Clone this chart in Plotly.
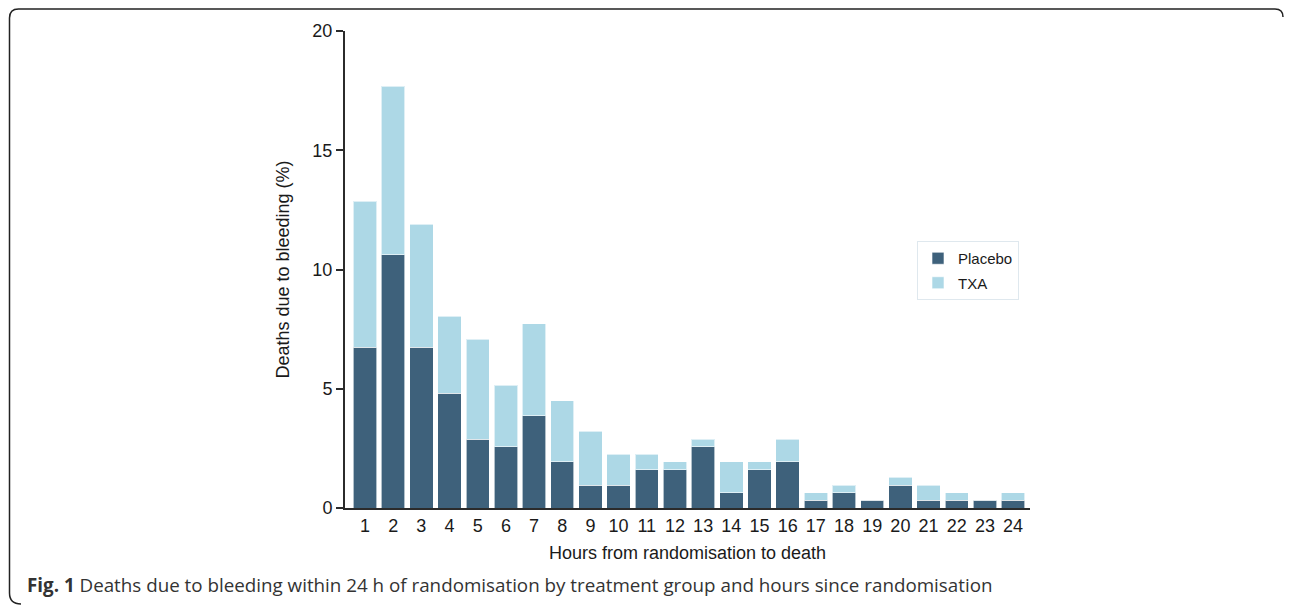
import plotly.graph_objects as go

hours = list(range(1, 25))
placebo = [6.75, 10.61, 6.75, 4.82, 2.89, 2.57, 3.86, 1.93, 0.96, 0.96, 1.61, 1.61,
           2.57, 0.64, 1.61, 1.93, 0.32, 0.64, 0.32, 0.96, 0.32, 0.32, 0.32, 0.32]
txa = [6.11, 7.07, 5.14, 3.22, 4.18, 2.57, 3.86, 2.57, 2.25, 1.29, 0.64, 0.32,
       0.32, 1.29, 0.32, 0.96, 0.32, 0.32, 0.00, 0.32, 0.64, 0.32, 0.00, 0.32]
y_ticks = [0, 5, 10, 15, 20]

OFF = 8  # page body margin
W, H = 1292 - OFF, 605 - OFF
# plot area in screen pixels of the reference
SL, SR, ST, SB = 345, 1030, 31, 508
L, R, T, B = SL - OFF, SR - OFF, ST - OFF, SB - OFF


def px(sx):
    return (sx - OFF - L) / (R - L)


def py(sy):
    return (B - (sy - OFF)) / (B - T)


DARK = "#3e617b"
LIGHT = "#add8e6"
AX = "#2b2b2b"

fig = go.Figure()
fig.add_trace(go.Bar(x=hours, y=placebo, name="Placebo", legendgroup="p",
                     marker=dict(color=DARK, line=dict(color="rgba(255,255,255,0.6)", width=1))))
fig.add_trace(go.Bar(x=hours, y=txa, name="TXA", legendgroup="t",
                     marker=dict(color=LIGHT, line=dict(color="rgba(255,255,255,0.6)", width=1))))

fx0, fy0 = 9.5, 9.0
fx1 = 1283.0
frame = "M {} {} Q {} {} {} {} L {} {} Q {} {} {} {} L {} {} Q {} {} {} {}".format(
    px(21), py(604), px(fx0), py(604), px(fx0), py(593),
    px(fx0), py(18), px(fx0), py(fy0), px(18.5), py(fy0),
    px(1275), py(fy0), px(fx1), py(fy0), px(fx1), py(17))

fig.update_layout(
    width=W, height=H,
    margin=dict(l=L, r=W - R, t=T, b=H - B, autoexpand=False),
    barmode="stack", bargap=0.17,
    plot_bgcolor="white", paper_bgcolor="white",
    font=dict(family="Liberation Sans, Arial, sans-serif", size=18, color="#1a1a1a"),
    xaxis=dict(range=[0.29, 24.6], tickmode="array", tickvals=hours,
               ticktext=[str(h) for h in hours], showgrid=False, zeroline=False,
               showline=True, linecolor=AX, linewidth=2, ticks="",
               tickfont=dict(size=18),
               title=dict(text="Hours from randomisation to death", standoff=12,
                          font=dict(size=18))),
    yaxis=dict(range=[0, 20], tickvals=y_ticks, showgrid=False, zeroline=False,
               showline=True, linecolor=AX, linewidth=2, ticks="outside",
               ticklen=7, tickwidth=1.5, tickcolor=AX, tickfont=dict(size=18),
               title=dict(text="Deaths due to bleeding (%)", standoff=18,
                          font=dict(size=18))),
    legend=dict(x=px(917), y=py(241), xanchor="left", yanchor="top",
                bordercolor="#dfe8ee", borderwidth=1, bgcolor="white",
                font=dict(size=15, color="#1a1a1a"), traceorder="grouped",
                tracegroupgap=2),
    shapes=[dict(type="path", xref="paper", yref="paper", path=frame,
                 line=dict(color="#222222", width=1.5))],
    annotations=[dict(xref="paper", yref="paper", x=px(25), y=py(585),
                      xanchor="left", yanchor="middle", showarrow=False,
                      text="<b>Fig. 1</b> Deaths due to bleeding within 24 h of randomisation by treatment group and hours since randomisation",
                      font=dict(family="Open Sans, sans-serif", size=18.8, color="#333333"))],
)

fig.write_html("out.html")
